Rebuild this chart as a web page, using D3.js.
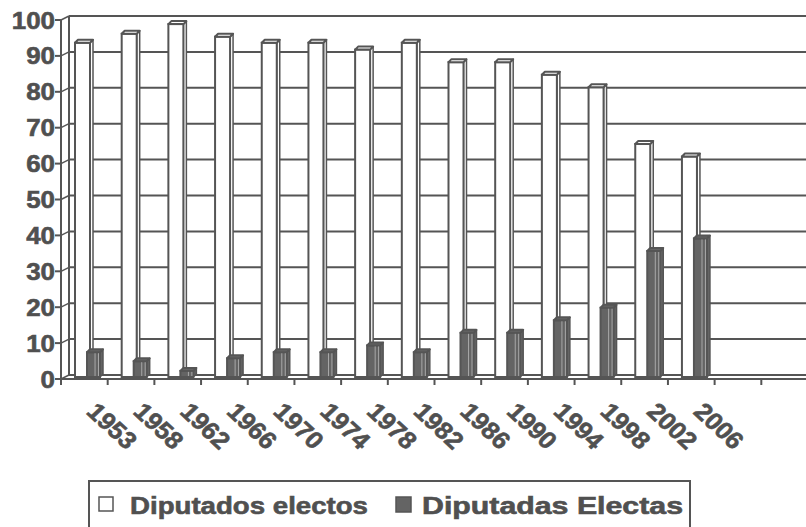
<!DOCTYPE html>
<html lang="en">
<head>
  <meta charset="UTF-8" />
  <title>Diputados electos / Diputadas electas</title>
  <script src="https://d3js.org/d3.v7.min.js"></script>
  <style>
    body { margin:0; padding:0; background:#fff; overflow:hidden; }
    svg { display:block; }
    text { font-family:Arial, "Liberation Sans", Helvetica, sans-serif; font-weight:700; fill:#505050; stroke:#505050; stroke-width:0.6px; }
  </style>
</head>
<body>
  <svg width="806" height="527"></svg>

  <script>
  // data (percent)
  const years    = ["1953","1958","1962","1966","1970","1974","1978","1982","1986","1990","1994","1998","2002","2006","",""];
  const electos  = [93.1, 95.6, 98.3, 94.8, 93.1, 93.1, 91.2, 93.1, 87.7, 87.7, 84.2, 80.7, 64.9, 61.4, null, null];
  const electas  = [6.9, 4.4, 1.7, 5.2, 6.9, 6.9, 8.8, 6.9, 12.3, 12.3, 15.8, 19.3, 35.1, 38.6, null, null];
  const yTicks   = [0,10,20,30,40,50,60,70,80,90,100];
  const seriesNames = ["Diputados electos", "Diputadas Electas"];

  const svg = d3.select('svg');
  const ink = '#555', dark = '#646464';
  const DX = 8, DY = -4;          // depth of the 3d box
  const W = 806;

  const x = d3.scaleBand().domain(d3.range(years.length)).range([61, 808]).paddingInner(0).paddingOuter(0);
  const y = d3.scaleLinear().domain([0, 100]).range([379, 20]);
  const yBar = v => y(v) + DY / 2;   // bars stand mid-depth

  const g = svg.append('g');

  // back wall grid lines + left wall diagonals
  yTicks.forEach(v => {
    g.append('line')
      .attr('x1', 61 + DX).attr('x2', W)
      .attr('y1', y(v) + DY).attr('y2', y(v) + DY)
      .attr('stroke', ink).attr('stroke-width', 2);
    g.append('line')
      .attr('x1', 61).attr('x2', 61 + DX)
      .attr('y1', y(v)).attr('y2', y(v) + DY)
      .attr('stroke', ink).attr('stroke-width', 1.5);
  });
  // left wall verticals
  g.append('line').attr('x1', 61 + DX).attr('x2', 61 + DX)
    .attr('y1', y(100) + DY).attr('y2', y(0) + DY)
    .attr('stroke', ink).attr('stroke-width', 2);

  // bars
  function bar(x0, w, v, fill, light) {
    const top = yBar(v), base = yBar(0), s = 3;
    const b = g.append('g');
    // side face
    b.append('polygon')
      .attr('points', [[x0 + w, base], [x0 + w, top], [x0 + w + s, top - s], [x0 + w + s, base - s]].join(' '))
      .attr('fill', fill).attr('stroke', ink).attr('stroke-width', 1.5).attr('stroke-linejoin', 'round');
    // front face
    b.append('rect')
      .attr('x', x0).attr('y', top).attr('width', w).attr('height', base - top)
      .attr('fill', fill).attr('stroke', ink).attr('stroke-width', 2);
    // top cap
    b.append('polygon')
      .attr('points', [[x0, top], [x0 + w, top], [x0 + w + s, top - s], [x0 + s, top - s]].join(' '))
      .attr('fill', fill).attr('stroke', ink).attr('stroke-width', 2).attr('stroke-linejoin', 'round');
    if (light) {
      [w * 0.62, w - 1.5].forEach(o => {
        b.append('line').attr('x1', x0 + o).attr('x2', x0 + o)
          .attr('y1', top + 1).attr('y2', base - 1)
          .attr('stroke', '#a8a8a8').attr('stroke-width', 1);
      });
    }
  }

  years.forEach((yr, i) => {
    const left = x(i);
    if (electos[i] != null) bar(left + 14, 15, electos[i], '#fff', false);
    if (electas[i] != null) bar(left + 26, 13, electas[i], dark, true);
  });

  // floor
  g.append('line').attr('x1', 61).attr('x2', W).attr('y1', y(0)).attr('y2', y(0))
    .attr('stroke', ink).attr('stroke-width', 2);
  // front value axis
  g.append('line').attr('x1', 61).attr('x2', 61).attr('y1', y(100)).attr('y2', y(0))
    .attr('stroke', ink).attr('stroke-width', 2);

  // value axis ticks + labels
  yTicks.forEach(v => {
    g.append('line').attr('x1', 55).attr('x2', 61).attr('y1', y(v)).attr('y2', y(v))
      .attr('stroke', ink).attr('stroke-width', 2);
    g.append('text')
      .attr('transform', `translate(55,${y(v) + 8.5}) scale(1.08,1)`)
      .attr('text-anchor', 'end')
      .attr('font-size', 24)
      .text(v);
  });

  // category ticks
  d3.range(years.length + 1).forEach(i => {
    const xx = 61 + i * x.step();
    g.append('line').attr('x1', xx).attr('x2', xx).attr('y1', y(0)).attr('y2', y(0) + 6)
      .attr('stroke', ink).attr('stroke-width', 2);
  });

  // category labels, rotated
  years.forEach((yr, i) => {
    if (!yr) return;
    const cx = x(i) + x.bandwidth() / 2;
    g.append('text')
      .attr('transform', `translate(${cx + 1},413) scale(1.08,1) rotate(45)`)
      .attr('font-size', 24)
      .text(yr);
  });

  // legend
  const lg = svg.append('g');
  lg.append('rect').attr('x', 89).attr('y', 481).attr('width', 601).attr('height', 70)
    .attr('fill', 'none').attr('stroke', ink).attr('stroke-width', 2);
  lg.append('rect').attr('x', 99).attr('y', 497).attr('width', 14).attr('height', 14)
    .attr('fill', '#fff').attr('stroke', ink).attr('stroke-width', 1.5);
  lg.append('text').attr('x', 130).attr('y', 514)
    .attr('font-size', 24).attr('textLength', 238).attr('lengthAdjust', 'spacingAndGlyphs')
    .text(seriesNames[0]);
  lg.append('rect').attr('x', 396).attr('y', 497).attr('width', 15).attr('height', 15)
    .attr('fill', dark).attr('stroke', ink).attr('stroke-width', 1.5);
  lg.append('text').attr('x', 422).attr('y', 514)
    .attr('font-size', 24).attr('textLength', 261).attr('lengthAdjust', 'spacingAndGlyphs')
    .text(seriesNames[1]);
  </script>
</body>
</html>
